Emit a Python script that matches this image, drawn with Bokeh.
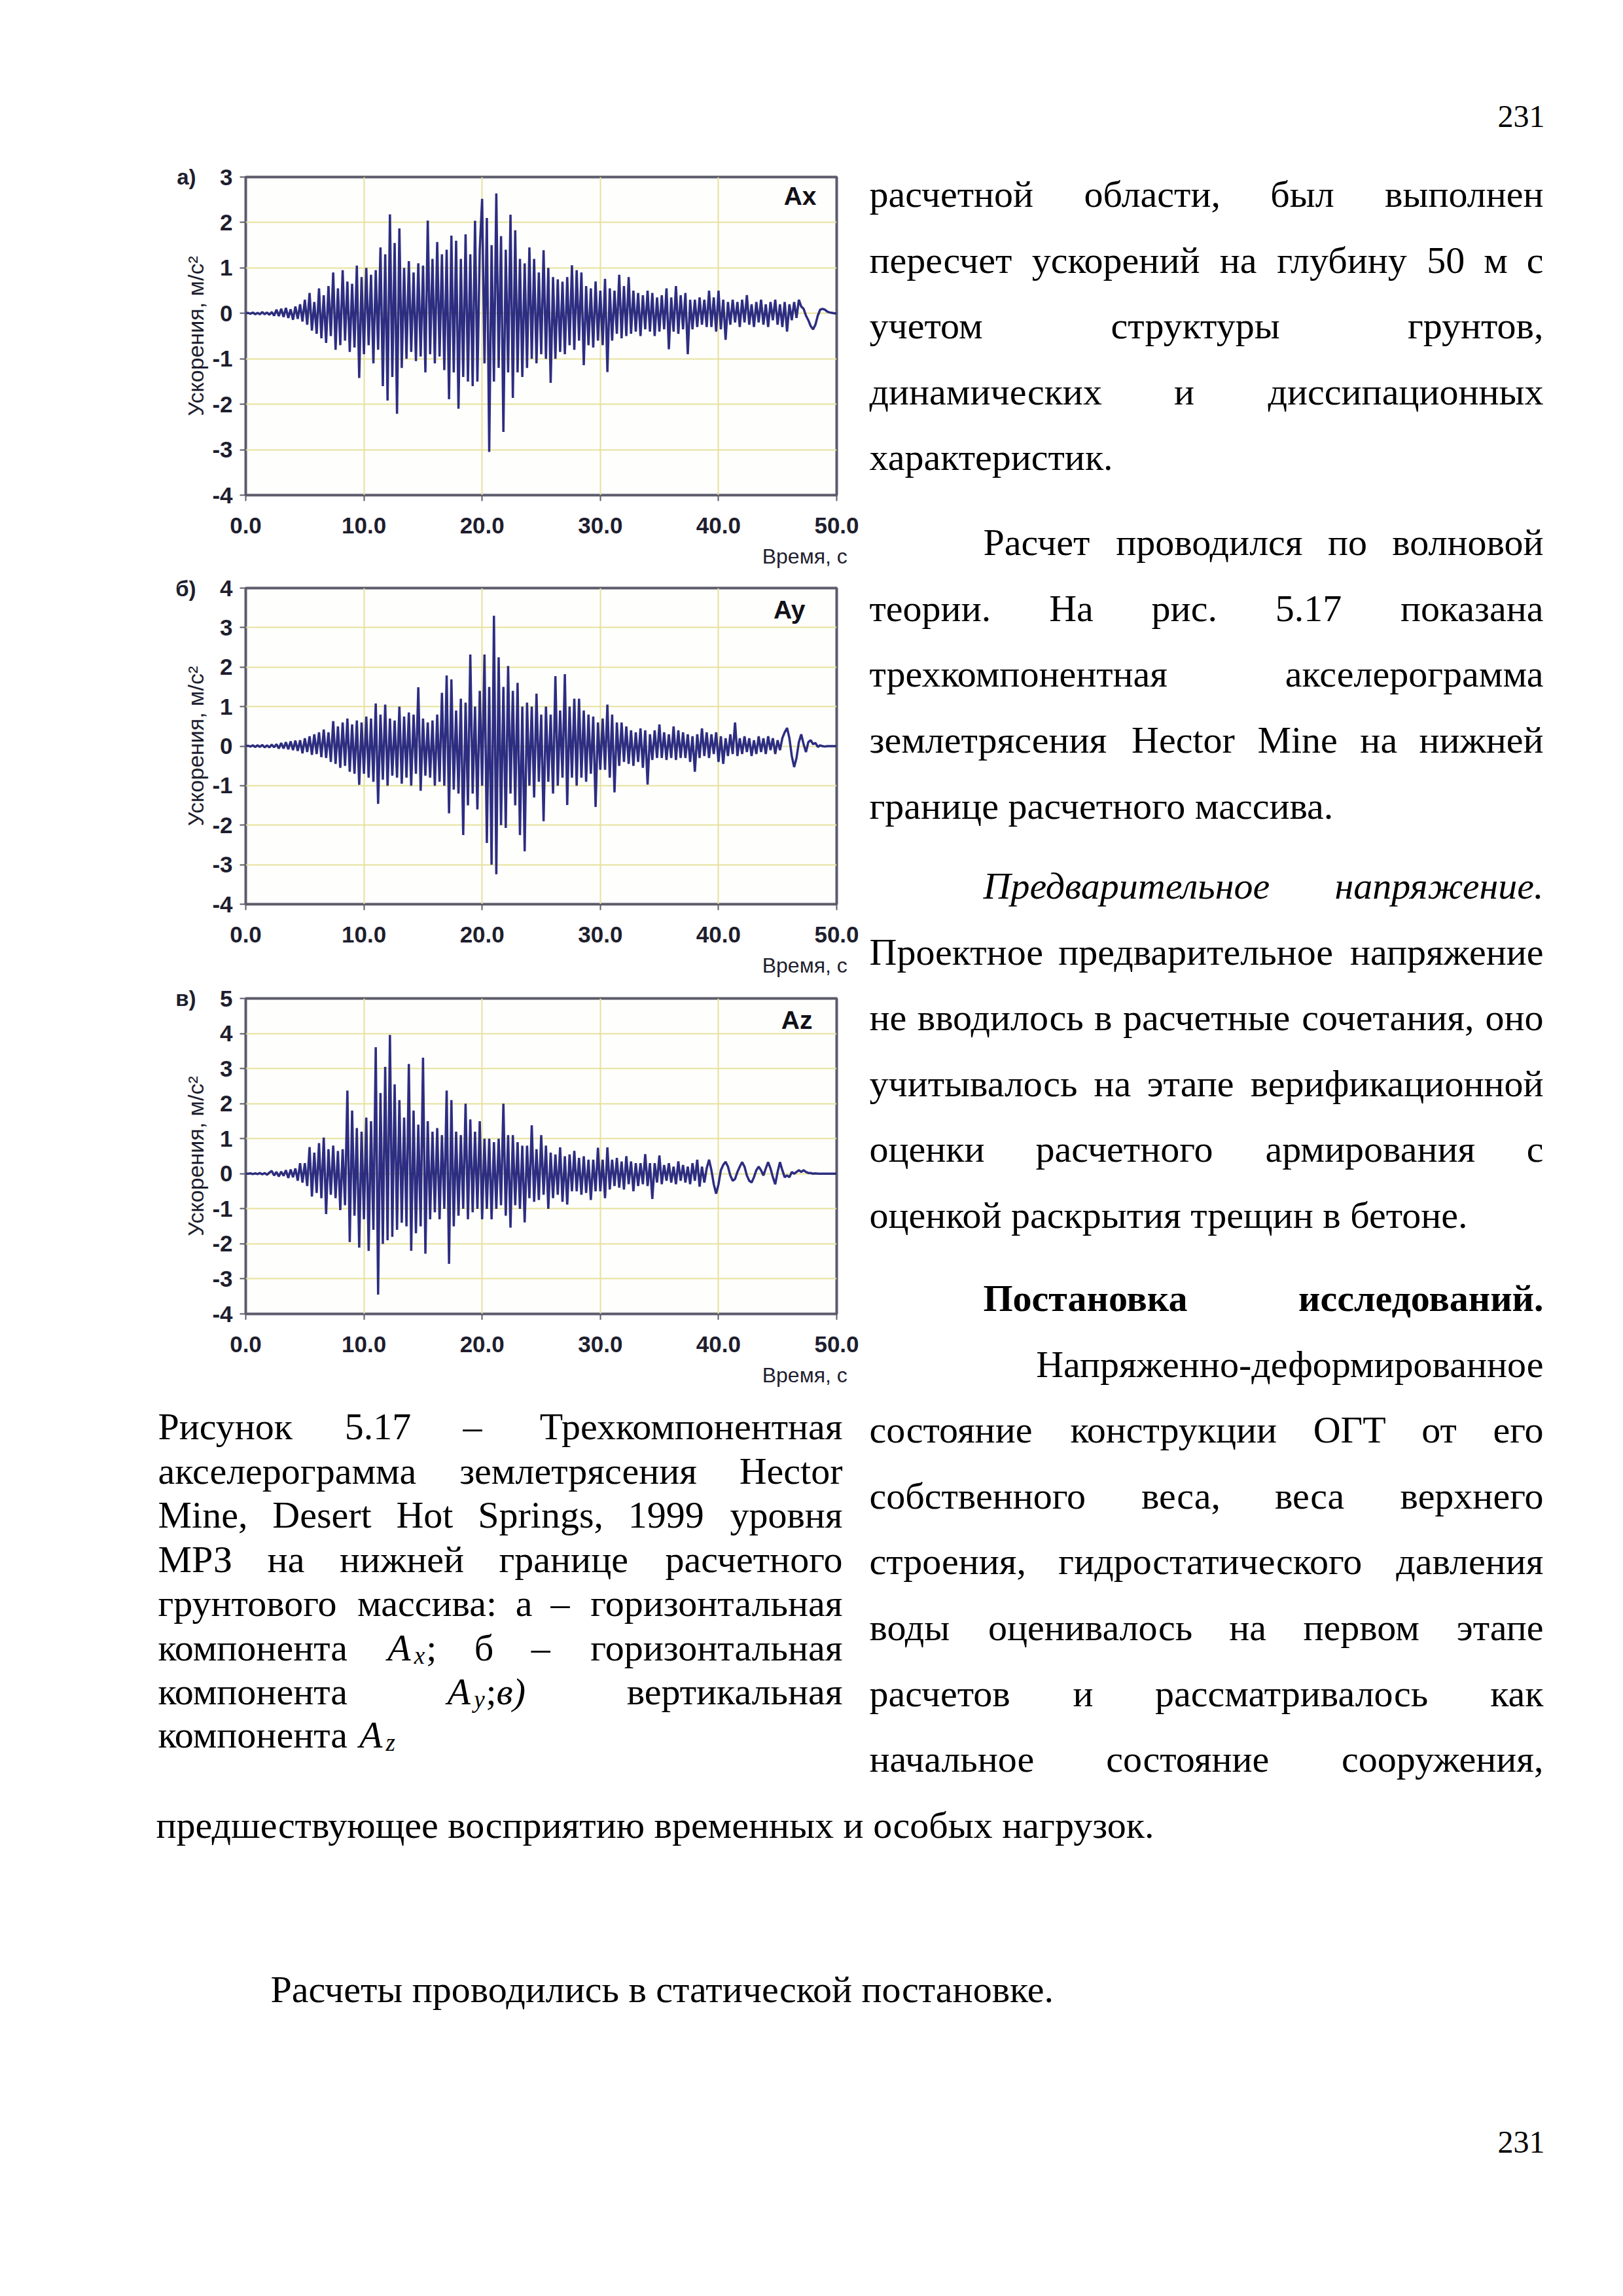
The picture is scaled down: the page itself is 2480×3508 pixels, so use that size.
from bokeh.plotting import figure
from bokeh.models import Range1d, FixedTicker, PrintfTickFormatter, Label, Spacer, LinearAxis
from bokeh.layouts import column, row
from bokeh.embed import file_html
from bokeh.resources import INLINE
from bokeh.core.properties import value

# ---------------- data ----------------
DT = 0.2  # sampling step of the read-off traces, s
X_TICKS = [0, 10, 20, 30, 40, 50]

ax_vals = [
    0.00, 0.01, -0.01, 0.02, -0.02, 0.01, -0.02, 0.03, -0.02, 0.02, -0.03, 0.03, -0.05, 0.08, -0.06, 0.10, -0.08, 0.12, -0.10, 0.09, -0.14, 0.15, -0.12, 0.20, -0.18,
    0.30, -0.25, 0.45, -0.38, 0.25, -0.45, 0.55, -0.55, 0.40, -0.65, 0.60, -0.50, 0.90, -0.80, 0.55, -0.70, 0.95, -0.60, 0.70, -0.85, 0.65, -0.75, 1.05, -1.42, 0.80,
    -0.90, 1.00, -0.70, 0.85, -1.10, 0.95, -0.80, 1.45, -1.60, 1.30, -1.92, 2.18, -1.40, 1.55, -2.21, 1.87, -1.20, 1.00, -1.00, 1.15, -0.85, 0.90, -1.05, 1.10, -0.95,
    1.05, -1.30, 2.04, -0.90, 1.20, -1.10, 1.57, -0.95, 1.30, -1.25, 1.40, -1.89, 1.71, -1.30, 1.60, -2.10, 1.20, -1.40, 1.74, -1.50, 1.30, -1.60, 2.04, -1.50, 1.40,
    2.52, -1.10, 2.10, -3.05, 1.50, -1.50, 2.64, -1.20, 1.70, -2.61, 1.40, -1.30, 2.17, -1.86, 1.83, -1.30, 1.20, -1.40, 1.10, -1.20, 1.45, -1.00, 1.20, -1.10, 0.90,
    -0.90, 1.39, -1.00, 1.00, -1.53, 0.80, -1.00, 0.75, -0.85, 0.70, -0.90, 0.80, -0.70, 1.06, -0.80, 0.95, -0.60, 0.90, -1.14, 0.60, -0.70, 0.55, -0.75, 0.70, -0.60,
    0.50, -0.70, 0.76, -1.29, 0.55, -0.60, 0.50, -0.45, 0.85, -0.55, 0.60, -0.50, 0.80, -0.45, 0.50, -0.40, 0.45, -0.50, 0.40, -0.35, 0.50, -0.40, 0.45, -0.50, 0.35,
    -0.40, 0.40, -0.35, 0.55, -0.79, 0.35, -0.40, 0.60, -0.45, 0.40, -0.35, 0.45, -0.90, 0.30, -0.35, 0.30, -0.30, 0.35, -0.25, 0.30, -0.30, 0.50, -0.30, 0.35, -0.40,
    0.50, -0.35, 0.30, -0.58, 0.25, -0.25, 0.30, -0.20, 0.25, -0.30, 0.30, -0.20, 0.40, -0.25, 0.20, -0.30, 0.25, -0.20, 0.30, -0.25, 0.20, -0.30, 0.25, -0.15, 0.30,
    -0.25, 0.20, -0.30, 0.25, -0.40, 0.20, -0.15, 0.25, -0.10, 0.30, 0.15, 0.10, -0.05, -0.15, -0.28, -0.35, -0.25, -0.05, 0.08, 0.10, 0.08, 0.04, 0.02, 0.01, 0.00, 0.00,
]

ay_vals = [
    0.00, 0.01, -0.01, 0.02, -0.02, 0.02, -0.02, 0.03, -0.03, 0.02, -0.03, 0.04, -0.03, 0.05, -0.06, 0.08, -0.06, 0.10, -0.08, 0.12, -0.10, 0.14, -0.12, 0.15, -0.18,
    0.20, -0.15, 0.25, -0.22, 0.30, -0.20, 0.35, -0.28, 0.42, -0.30, 0.35, -0.40, 0.63, -0.45, 0.50, -0.55, 0.60, -0.50, 0.70, -0.65, 0.55, -0.70, 0.65, -0.98, 0.60,
    -0.70, 0.75, -0.80, 0.70, -0.90, 1.08, -1.46, 0.80, -0.85, 1.05, -1.00, 0.70, -0.75, 0.65, -0.80, 1.00, -0.95, 0.75, -0.80, 0.85, -1.00, 0.80, -0.70, 1.49, -1.13,
    0.70, -0.75, 0.60, -0.80, 0.65, -1.00, 0.80, -0.90, 1.35, -1.00, 1.79, -1.70, 1.69, -1.10, 0.90, -1.20, 1.20, -2.25, 1.10, -1.50, 2.32, -1.20, 1.00, -1.60, 1.40,
    -1.00, 2.32, -2.45, 1.50, -3.00, 3.30, -3.24, 2.25, -2.00, 1.50, -2.07, 2.03, -1.20, 1.40, -1.50, 1.60, -2.25, 1.00, -2.66, 1.10, -1.00, 1.00, -1.30, 1.33, -0.90,
    0.80, -1.90, 1.00, -0.90, 0.80, -1.20, 1.77, -1.00, 0.90, -0.80, 1.82, -1.49, 1.00, -0.80, 1.20, -1.00, 1.20, -0.80, 0.90, -0.90, 0.80, -0.70, 0.75, -1.54, 0.60,
    -0.60, 0.70, -0.60, 1.05, -0.80, 0.80, -1.17, 0.60, -0.50, 0.60, -0.40, 0.50, -0.45, 0.40, -0.50, 0.35, -0.40, 0.45, -0.55, 0.40, -0.97, 0.30, -0.35, 0.40, -0.30,
    0.55, -0.30, 0.35, -0.35, 0.30, -0.30, 0.50, -0.35, 0.40, -0.30, 0.35, -0.30, 0.30, -0.40, 0.25, -0.65, 0.30, -0.30, 0.45, -0.25, 0.35, -0.30, 0.30, -0.20, 0.35,
    -0.40, 0.25, -0.45, 0.20, -0.25, 0.30, -0.20, 0.60, -0.25, 0.20, -0.20, 0.25, -0.15, 0.20, -0.25, 0.15, -0.20, 0.25, -0.15, 0.20, -0.20, 0.25, -0.10, 0.20, -0.20,
    0.15, -0.10, 0.20, 0.35, 0.46, 0.20, -0.25, -0.53, -0.30, 0.10, 0.30, 0.05, -0.15, 0.10, 0.15, 0.05, 0.08, -0.02, 0.02, 0.00, -0.01, 0.00, 0.00, 0.00, 0.00, 0.00,
]

az_vals = [
    0.00, 0.00, 0.01, -0.01, 0.01, -0.01, 0.02, -0.02, 0.02, -0.03, 0.03, 0.08, -0.05, 0.05, -0.08, 0.06, -0.06, 0.10, -0.12, 0.12, -0.10, 0.15, -0.20, 0.30, -0.25,
    0.30, -0.35, 0.76, -0.65, 0.60, -0.55, 0.87, -0.70, 1.03, -1.15, 0.70, -0.60, 0.80, -0.70, 0.65, -1.04, 0.70, -0.90, 2.37, -1.95, 1.80, -1.20, 1.30, -2.11, 1.20,
    -1.30, 1.60, -2.20, 1.50, -1.60, 3.61, -3.45, 2.30, -2.00, 3.05, -1.90, 3.96, -1.80, 2.55, -1.60, 2.10, -1.40, 1.60, -1.50, 3.13, -2.20, 1.80, -1.70, 1.40, -1.50,
    3.31, -2.28, 1.50, -1.30, 1.20, -1.10, 1.30, -1.30, 1.10, -1.00, 2.37, -2.57, 2.10, -1.50, 1.20, -1.20, 1.10, -1.00, 2.00, -1.30, 1.55, -1.10, 1.20, -1.00, 1.50,
    -1.30, 1.00, -1.00, 1.00, -1.30, 0.90, -1.00, 1.00, -0.90, 2.00, -1.20, 1.10, -1.54, 1.10, -0.90, 0.90, -1.00, 0.80, -1.39, 0.80, -0.70, 1.38, -0.80, 0.70, -0.75,
    1.10, -0.60, 0.80, -1.00, 0.60, -0.70, 0.55, -0.60, 0.75, -0.80, 0.50, -0.88, 0.55, -0.50, 0.65, -0.50, 0.45, -0.60, 0.50, -0.55, 0.40, -0.75, 0.40, -0.50, 0.74,
    -0.50, 0.40, -0.70, 0.75, -0.45, 0.40, -0.35, 0.45, -0.40, 0.35, -0.45, 0.50, -0.30, 0.35, -0.50, 0.30, -0.35, 0.30, -0.30, 0.56, -0.35, 0.30, -0.72, 0.30, -0.25,
    0.52, -0.30, 0.25, -0.20, 0.30, -0.25, 0.20, -0.30, 0.35, -0.20, 0.25, -0.25, 0.20, -0.30, 0.30, -0.20, 0.40, -0.37, 0.20, -0.25, 0.15, 0.40, 0.10, -0.30, -0.57,
    -0.30, 0.10, 0.25, 0.34, 0.20, -0.05, -0.20, -0.15, 0.05, 0.20, 0.33, 0.20, -0.05, -0.20, -0.25, -0.10, 0.10, 0.20, 0.10, -0.05, 0.15, 0.33, 0.15, -0.10, -0.30,
    0.05, 0.33, 0.10, -0.10, -0.05, -0.10, 0.05, 0.00, 0.05, 0.10, 0.05, 0.10, 0.05, 0.02, 0.02, 0.00, 0.01, 0.00, 0.00, 0.00, 0.00, 0.00, 0.00, 0.00, 0.00, 0.00,
]

Y_LABEL = "Ускорения, м/с²"
X_LABEL = "Время, с"

# ---------------- page text ----------------
RIGHT_LINES = [
    ("расчетной области, был выполнен", "j", "n", 0),
    ("пересчет ускорений на глубину 50 м с", "j", "n", 0),
    ("учетом структуры грунтов,", "j", "n", 0),
    ("динамических и диссипационных", "j", "n", 0),
    ("характеристик.", "l", "n", 0),
    ("Расчет проводился по волновой", "j", "n", 1),
    ("теории. На рис. 5.17 показана", "j", "n", 0),
    ("трехкомпонентная акселерограмма", "j", "n", 0),
    ("землетрясения Hector Mine на нижней", "j", "n", 0),
    ("границе расчетного массива.", "l", "n", 0),
    ("Предварительное напряжение.", "j", "i", 1),
    ("Проектное предварительное напряжение", "j", "n", 0),
    ("не вводилось в расчетные сочетания, оно", "j", "n", 0),
    ("учитывалось на этапе верификационной", "j", "n", 0),
    ("оценки расчетного армирования с", "j", "n", 0),
    ("оценкой раскрытия трещин в бетоне.", "l", "n", 0),
    ("Постановка исследований.", "j", "b", 1),
    ("Напряженно-деформированное", "r", "n", 0),
    ("состояние конструкции ОГТ от его", "j", "n", 0),
    ("собственного веса, веса верхнего", "j", "n", 0),
    ("строения, гидростатического давления", "j", "n", 0),
    ("воды оценивалось на первом этапе", "j", "n", 0),
    ("расчетов и рассматривалось как", "j", "n", 0),
    ("начальное состояние сооружения,", "j", "n", 0),
]
RIGHT_BASE = [304, 405, 505, 606, 706, 836, 937, 1037, 1138, 1239, 1361, 1462,
              1562, 1663, 1763, 1864, 1991, 2092, 2192, 2293, 2393, 2494, 2595, 2695]

CAPTION_LINES = [
    (["Рисунок", "5.17", "–", "Трехкомпонентная"], "j"),
    (["акселерограмма", "землетрясения", "Hector"], "j"),
    (["Mine,", "Desert", "Hot", "Springs,", "1999", "уровня"], "j"),
    (["МРЗ", "на", "нижней", "границе", "расчетного"], "j"),
    (["грунтового", "массива:", "а", "–", "горизонтальная"], "j"),
    (["компонента", [("A", "i"), ("x", "sub"), (";", "n")], "б", "–", "горизонтальная"], "j"),
    (["компонента", [("A", "i"), ("y", "sub"), (";", "n"), ("в)", "i")], "вертикальная"], "j"),
    (["компонента", [("A", "i"), ("z", "sub")]], "l"),
]
CAPTION_BASE = [2187, 2255, 2322, 2390, 2457, 2525, 2592, 2658]

BOTTOM_LINES = [
    ("предшествующее восприятию временных и особых нагрузок.", 246, 2796),
    ("Расчеты проводились в статической постановке.", 421, 3047),
]
PAGE_NO = "231"

# ---------------- approximate Times metrics for justification ----------------
CW = {}
CW.update(dict(a=444, b=500, c=444, d=500, e=444, f=333, g=500, h=500, i=278, j=278, k=500, l=278, m=778,
               n=500, o=500, p=500, q=500, r=333, s=389, t=278, u=500, v=500, w=722, x=500, y=500, z=444))
CW.update(dict(A=722, B=667, C=667, D=722, E=611, F=556, G=722, H=722, I=333, J=389, K=722, L=611, M=889,
               N=722, O=722, P=556, Q=722, R=667, S=556, T=611, U=722, V=722, W=944, X=722, Y=722, Z=611))
CW.update({'а': 444, 'б': 500, 'в': 472, 'г': 404, 'д': 510, 'е': 444, 'ж': 672, 'з': 400, 'и': 535, 'й': 535,
           'к': 484, 'л': 510, 'м': 632, 'н': 535, 'о': 500, 'п': 535, 'р': 500, 'с': 444, 'т': 442, 'у': 500,
           'ф': 648, 'х': 500, 'ц': 535, 'ч': 503, 'ш': 770, 'щ': 770, 'ъ': 514, 'ы': 682, 'ь': 466, 'э': 428,
           'ю': 746, 'я': 491,
           'А': 722, 'Б': 574, 'В': 667, 'Г': 578, 'Д': 682, 'Е': 611, 'Ж': 896, 'З': 501, 'И': 722, 'Й': 722,
           'К': 667, 'Л': 678, 'М': 889, 'Н': 722, 'О': 722, 'П': 722, 'Р': 556, 'С': 667, 'Т': 611, 'У': 715,
           'Ф': 771, 'Х': 722, 'Ц': 722, 'Ч': 668, 'Ш': 1000, 'Щ': 1000, 'Ы': 900, 'Ь': 570, 'Э': 667,
           'Ю': 1010, 'Я': 667})
CW.update({' ': 250, '.': 250, ',': 250, ':': 278, ';': 278, '–': 500, '-': 333, '(': 333, ')': 333})
for dgt in "0123456789":
    CW[dgt] = 500

STYLE = {'n': 'normal', 'b': 'bold', 'i': 'italic', 'sub': 'italic'}
FAC = {'n': 1.0, 'b': 1.07, 'i': 0.97, 'sub': 0.97}
FS = 58  # body font size, px
FS_PAGE = 48


def seg_w(txt, st, size):
    sz = size * 0.65 if st == 'sub' else size
    return sum(CW.get(c, 500) for c in txt) / 1000.0 * sz * FAC[st]


def word_w(segs, size):
    return sum(seg_w(t, s, size) for t, s in segs)


class TextBag:
    def __init__(self):
        self.items = {}

    def add(self, style, size, align, x, y, txt):
        d = self.items.setdefault((STYLE[style], size, align), {'x': [], 'y': [], 't': []})
        d['x'].append(x)
        d['y'].append(y)
        d['t'].append(txt)

    def line(self, words, style, L, R, y, size, mode):
        if mode in ('l', 'r') and all(isinstance(w, str) for w in words):
            if mode == 'l':
                self.add(style, size, 'left', L, y, ' '.join(words))
            else:
                self.add(style, size, 'right', R, y, ' '.join(words))
            return
        segs_list = [[(w, style)] if isinstance(w, str) else w for w in words]
        widths = [word_w(s, size) for s in segs_list]
        n = len(words)
        if mode == 'j' and n > 1:
            gap = (R - L - sum(widths)) / (n - 1)
        else:
            gap = size * 0.25
        x = L
        for i, segs in enumerate(segs_list):
            w = widths[i]
            if len(segs) == 1:
                txt, st = segs[0]
                if i == 0:
                    self.add(st, size, 'left', x, y, txt)
                elif i == n - 1 and mode == 'j':
                    self.add(st, size, 'right', R, y, txt)
                else:
                    self.add(st, size, 'center', x + w / 2, y, txt)
            else:
                xx = x
                for txt, st in segs:
                    if st == 'sub':
                        self.add(st, int(size * 0.65), 'left', xx, y + size * 0.2, txt)
                    else:
                        self.add(st, size, 'left', xx, y, txt)
                    xx += seg_w(txt, st, size)
            x += w + gap

    def render(self, p):
        for (fstyle, size, align), d in self.items.items():
            p.text(x=d['x'], y=d['y'], text=d['t'], text_font=value("Liberation Serif"),
                   text_font_size=value(f"{size}px"), text_font_style=fstyle,
                   text_align=align, text_baseline="alphabetic", text_color="#000000")


def text_fig(w, h, x0, y0):
    p = figure(width=w, height=h, x_range=Range1d(x0, x0 + w), y_range=Range1d(y0 + h, y0),
               toolbar_location=None, output_backend="svg", min_border=0,
               x_axis_type=None, y_axis_type=None)
    p.outline_line_color = None
    p.background_fill_color = "white"
    p.border_fill_color = "white"
    return p


# ---------------- charts ----------------
INK = "#1e1e2e"
FRAME = "#5b5b6b"
LEFT_W = 1318          # width of the chart column
FL, FR = 383, 1286     # page x of the plot frames


def chart(vals, ymin, ymax, panel, comp, fig_top, h, ft, fb, comp_px, time_cx):
    p = figure(width=LEFT_W, height=h, x_range=Range1d(0, 50), y_range=Range1d(ymin, ymax),
               toolbar_location=None, output_backend="svg",
               min_border_left=FL - 8, min_border_right=LEFT_W + 8 - FR,
               min_border_top=ft - fig_top, min_border_bottom=fig_top + h - fb)
    sx = (FR - FL) / 50.0
    sy = (fb - ft) / float(ymax - ymin)

    def to_data(px, py):
        return (px - FL) / sx, ymax - (py - ft) / sy

    p.background_fill_color = "#fefefd"
    p.border_fill_color = "white"
    p.outline_line_color = FRAME
    p.outline_line_width = 4

    p.xaxis.ticker = FixedTicker(ticks=X_TICKS)
    p.xaxis.formatter = PrintfTickFormatter(format="%.1f")
    p.yaxis.ticker = FixedTicker(ticks=list(range(ymin, ymax + 1)))
    p.yaxis.formatter = PrintfTickFormatter(format="%d")
    p.axis.axis_line_color = None
    p.axis.major_tick_out = 9
    p.axis.major_tick_in = 0
    p.axis.minor_tick_out = 0
    p.axis.minor_tick_in = 0
    p.axis.major_tick_line_color = FRAME
    p.axis.major_tick_line_width = 2
    p.axis.major_label_text_font = "Liberation Sans"
    p.axis.major_label_text_font_size = "35px"
    p.axis.major_label_text_font_style = "bold"
    p.axis.major_label_text_color = INK
    p.xaxis.major_label_standoff = 25
    p.yaxis.major_label_standoff = 11
    p.yaxis.axis_label = Y_LABEL
    p.yaxis.axis_label_text_font = "Liberation Sans"
    p.yaxis.axis_label_text_font_size = "34px"
    p.yaxis.axis_label_text_font_style = "normal"
    p.yaxis.axis_label_text_color = INK
    p.yaxis.axis_label_standoff = 3

    p.grid.grid_line_color = "#e6e19c"
    p.grid.grid_line_width = 2

    t = [i * DT for i in range(len(vals))]
    p.line(t, vals, line_color="#22227a", line_width=3.5, line_alpha=0.95)

    # panel letter: an outer left axis with a single labelled tick at the top of the range
    pan_axis = LinearAxis(ticker=FixedTicker(ticks=[ymax]), major_label_overrides={ymax: panel})
    pan_axis.axis_line_color = None
    pan_axis.major_tick_line_color = None
    pan_axis.major_tick_out = 0
    pan_axis.major_tick_in = 0
    pan_axis.minor_tick_out = 0
    pan_axis.minor_tick_in = 0
    pan_axis.major_label_standoff = -22
    pan_axis.major_label_text_font = "Liberation Sans"
    pan_axis.major_label_text_font_size = "33px"
    pan_axis.major_label_text_font_style = "bold"
    pan_axis.major_label_text_color = INK
    p.add_layout(pan_axis, "left")

    # time caption: an outer bottom axis with a single labelled tick
    tx, _ = to_data(time_cx, ft)
    tx = round(tx, 1)
    time_axis = LinearAxis(ticker=FixedTicker(ticks=[tx]), major_label_overrides={tx: X_LABEL})
    time_axis.axis_line_color = None
    time_axis.major_tick_line_color = None
    time_axis.major_tick_out = 0
    time_axis.major_tick_in = 0
    time_axis.minor_tick_out = 0
    time_axis.minor_tick_in = 0
    time_axis.major_label_standoff = 14
    time_axis.major_label_text_font = "Liberation Sans"
    time_axis.major_label_text_font_size = "32px"
    time_axis.major_label_text_font_style = "normal"
    time_axis.major_label_text_color = INK
    p.add_layout(time_axis, "below")

    x, y = to_data(*comp_px)
    p.add_layout(Label(x=x, y=y, text=comp, text_font="Liberation Sans", text_font_size="39px",
                       text_font_style="bold", text_color="#111118", text_align="right", text_baseline="middle"))
    return p


fa = chart(ax_vals, -4, 3, "а)", "Ax", 240, 648, 278, 764, (1255, 307), 1238)
fb = chart(ay_vals, -4, 4, "б)", "Ay", 888, 625, 906, 1389, (1238, 939), 1238)
fc = chart(az_vals, -4, 5, "в)", "Az", 1513, 627, 1533, 2015, (1249, 1566), 1238)

# ---------------- text blocks ----------------
RL, RR, RIND = 1336, 2366, 1510
SPLIT_Y = 2140
RX0 = 8 + LEFT_W

fright = text_fig(2472 - RX0, SPLIT_Y - 8, RX0, 8)
bag_r = TextBag()
bag_r.add('n', FS_PAGE, 'right', 2368, 185, PAGE_NO)

fbottom = text_fig(2464, 3500 - SPLIT_Y, 8, SPLIT_Y)
bag_b = TextBag()

for (txt, mode, st, ind), yb in zip(RIGHT_LINES, RIGHT_BASE):
    bag = bag_r if yb < SPLIT_Y - 20 else bag_b
    bag.line(txt.split(), st, RIND if ind else RL, RR, yb, FS, mode)

for (words, mode), yb in zip(CAPTION_LINES, CAPTION_BASE):
    bag_b.line(words, 'n', 249, 1295, yb, FS, mode)

for txt, xl, yb in BOTTOM_LINES:
    bag_b.add('n', FS, 'left', xl, yb, txt)
bag_b.add('n', FS_PAGE, 'right', 2368, 3280, PAGE_NO)

bag_r.render(fright)
bag_b.render(fbottom)

layout = column(row(column(Spacer(width=LEFT_W, height=232), fa, fb, fc), fright), fbottom)

open("out.html", "w").write(file_html(layout, INLINE, title="Рисунок 5.17"))
